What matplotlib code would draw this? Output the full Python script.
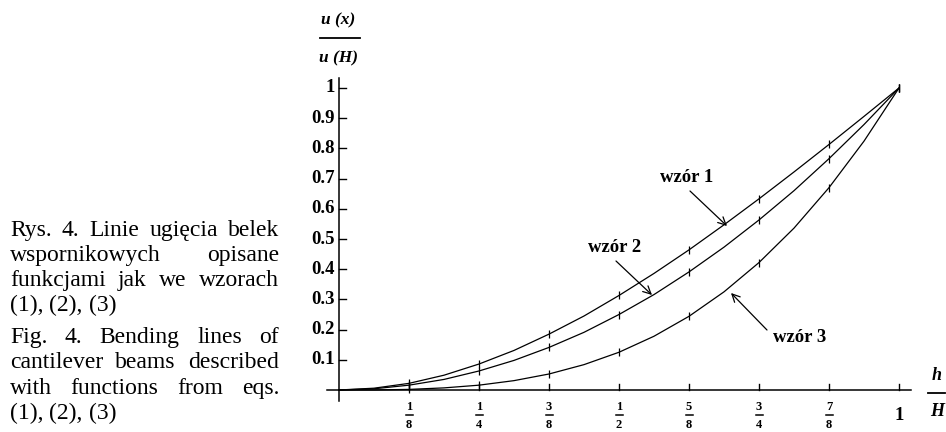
import matplotlib
matplotlib.use("Agg")
import matplotlib.pyplot as plt
from matplotlib.transforms import offset_copy

plt.rcParams['font.family'] = ['Liberation Serif', 'DejaVu Serif']

# h/H sampled every 1/16
x = [0, 0.0625, 0.125, 0.1875, 0.25, 0.3125, 0.375, 0.4375, 0.5,
     0.5625, 0.625, 0.6875, 0.75, 0.8125, 0.875, 0.9375, 1.0]
# u(x)/u(H) read for each formula
wzor1 = [0, 0.006, 0.022, 0.049, 0.086, 0.131, 0.185, 0.245, 0.313,
         0.386, 0.464, 0.547, 0.633, 0.722, 0.813, 0.906, 1.0]
wzor2 = [0, 0.004, 0.016, 0.035, 0.063, 0.098, 0.141, 0.191, 0.250,
         0.316, 0.391, 0.473, 0.563, 0.660, 0.766, 0.879, 1.0]
wzor3 = [0, 0.0002, 0.002, 0.007, 0.016, 0.031, 0.053, 0.084, 0.125,
         0.178, 0.244, 0.325, 0.422, 0.536, 0.670, 0.824, 1.0]

x_ticks = [0.125, 0.25, 0.375, 0.5, 0.625, 0.75, 0.875]
x_tick_num = ['1', '1', '3', '1', '5', '3', '7']
x_tick_den = ['8', '4', '8', '2', '8', '4', '8']
y_ticks = [0.1, 0.2, 0.3, 0.4, 0.5, 0.6, 0.7, 0.8, 0.9, 1.0]
y_tick_labels = ['0.1', '0.2', '0.3', '0.4', '0.5', '0.6', '0.7', '0.8', '0.9', '1']

caption = [
    ("Rys. 4. Linie ugięcia belek", True),
    ("wspornikowych opisane", True),
    ("funkcjami jak we wzorach", True),
    ("(1), (2), (3)", False),
    ("Fig. 4. Bending lines of", True),
    ("cantilever beams described", True),
    ("with functions from eqs.", True),
    ("(1), (2), (3)", False),
]
caption_y = [229, 254, 279, 304, 336, 361, 387, 412]

W, H = 946, 432
fig = plt.figure(figsize=(W / 100, H / 100), dpi=100)


def px(x0, y0):
    return x0 / W, 1 - y0 / H


# plot area: origin at (339, 390), x=1 at 899, y=1 at 88
ax = fig.add_axes([339 / W, (H - 390) / H, 560 / W, 302 / H])
ax.set_xlim(0, 1)
ax.set_ylim(0, 1)
ax.axis('off')


def d(x0, y0):
    return (x0 - 339) / 560, (390 - y0) / 302


lw = 0.9
ax.plot([-0.021, 1.021], [0, 0], color='k', lw=1.1, clip_on=False)
ax.plot([0, 0], [-0.036, 1.033], color='k', lw=1.1, clip_on=False)

for t in x_ticks + [1.0]:
    ax.plot([t, t], [0, 6 / 302], color='k', lw=1.0, clip_on=False)
for t in y_ticks:
    ax.plot([0, 7 / 560], [t, t], color='k', lw=1.0, clip_on=False)

for t, lab in zip(y_ticks, y_tick_labels):
    ax.text(-4 / 560, t, lab, ha='right', va='center', fontsize=13.5,
            fontweight='bold', clip_on=False)

# fractions under the x axis
for t, n, dn in zip(x_ticks, x_tick_num, x_tick_den):
    tr_n = offset_copy(ax.transData, fig=fig, x=0, y=-17, units='dots')
    tr_d = offset_copy(ax.transData, fig=fig, x=0, y=-35, units='dots')
    tr_b = offset_copy(ax.transData, fig=fig, x=0, y=-25, units='dots')
    ax.text(t, 0, n, transform=tr_n, ha='center', va='center',
            fontsize=9, fontweight='bold')
    ax.text(t, 0, dn, transform=tr_d, ha='center', va='center',
            fontsize=9, fontweight='bold')
    ax.plot([t - 3.5 / 560, t + 3.5 / 560], [0, 0], transform=tr_b,
            color='k', lw=1.1, clip_on=False)
ax.text(1.0, 0, '1', transform=offset_copy(ax.transData, fig=fig, x=0, y=-26, units='dots'),
        ha='center', va='center', fontsize=13.5, fontweight='bold')

# curves with marks every 1/8
for ys in (wzor1, wzor2, wzor3):
    ax.plot(x, ys, color='k', lw=lw, clip_on=False)
    ax.plot(x[::2][1:], ys[::2][1:], linestyle='none', marker='|',
            ms=6, mew=0.9, color='k', clip_on=False)

labels = [
    ('wzór 1', (687, 178), (690, 191), (727, 226)),
    ('wzór 2', (615, 247), (616, 261), (652, 295)),
    ('wzór 3', (800, 338), (767, 330), (731, 293)),
]
for txt, pos, start, tip in labels:
    ax.text(*d(*pos), txt, ha='center', va='center', fontsize=13.5,
            fontweight='bold')
    ax.annotate('', xy=d(*tip), xytext=d(*start),
                arrowprops=dict(arrowstyle='->', color='k', lw=0.9,
                                shrinkA=0, shrinkB=0, mutation_scale=14))

# axis titles as stacked fractions
ax.text(*d(338, 20), 'u (x)', ha='center', va='center', fontsize=12.5,
        fontweight='bold', fontstyle='italic')
ax.plot([d(320, 0)[0], d(360, 0)[0]], [d(0, 38)[1]] * 2, color='k', lw=1.3, clip_on=False)
ax.text(*d(338, 58), 'u (H)', ha='center', va='center', fontsize=12.5,
        fontweight='bold', fontstyle='italic')

ax.text(*d(937, 376), 'h', ha='center', va='center', fontsize=13,
        fontweight='bold', fontstyle='italic')
ax.plot([d(928, 0)[0], d(945, 0)[0]], [d(0, 393)[1]] * 2, color='k', lw=1.3, clip_on=False)
ax.text(*d(937, 412), 'H', ha='center', va='center', fontsize=13,
        fontweight='bold', fontstyle='italic')

# justified caption on the left, words share one baseline
renderer = fig.canvas.get_renderer()
left, right = 10, 279
cap_size = 17
for (line, just), yy in zip(caption, caption_y):
    words = line.split()
    texts = [fig.text(0, 0, w, fontsize=cap_size, va='baseline', ha='left') for w in words]
    widths = [tt.get_window_extent(renderer).width for tt in texts]
    if just and len(words) > 1:
        gap = (right - left - sum(widths)) / (len(words) - 1)
    else:
        gap = cap_size * 100 / 72 * 0.25
    xx = left
    for tt, w in zip(texts, widths):
        tt.set_position(px(xx, yy + 7))
        xx += w + gap

fig.savefig('out.png', dpi=100)
